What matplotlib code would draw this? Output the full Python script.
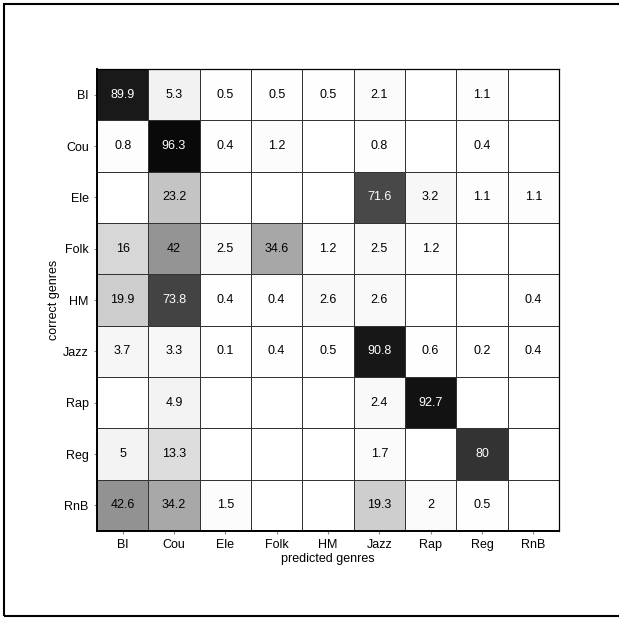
import numpy as np
import matplotlib
matplotlib.use("Agg")
import matplotlib.pyplot as plt
from matplotlib.patches import Rectangle

genres = ["Bl", "Cou", "Ele", "Folk", "HM", "Jazz", "Rap", "Reg", "RnB"]

row_Bl   = [89.9, 5.3, 0.5, 0.5, 0.5, 2.1, 0, 1.1, 0]
row_Cou  = [0.8, 96.3, 0.4, 1.2, 0, 0.8, 0, 0.4, 0]
row_Ele  = [0, 23.2, 0, 0, 0, 71.6, 3.2, 1.1, 1.1]
row_Folk = [16, 42, 2.5, 34.6, 1.2, 2.5, 1.2, 0, 0]
row_HM   = [19.9, 73.8, 0.4, 0.4, 2.6, 2.6, 0, 0, 0.4]
row_Jazz = [3.7, 3.3, 0.1, 0.4, 0.5, 90.8, 0.6, 0.2, 0.4]
row_Rap  = [0, 4.9, 0, 0, 0, 2.4, 92.7, 0, 0]
row_Reg  = [5, 13.3, 0, 0, 0, 1.7, 0, 80, 0]
row_RnB  = [42.6, 34.2, 1.5, 0, 0, 19.3, 2, 0.5, 0]

M = np.array([row_Bl, row_Cou, row_Ele, row_Folk, row_HM,
              row_Jazz, row_Rap, row_Reg, row_RnB])

plt.rcParams['font.family'] = ['Liberation Sans', 'DejaVu Sans']

fig = plt.figure(figsize=(6.19, 6.20), dpi=100)
ax = fig.add_axes([97/619, 1 - 531/620, (559 - 97)/619, (531 - 69)/620])

n = len(genres)
ax.pcolormesh(np.arange(n + 1) - 0.5, np.arange(n + 1) - 0.5, M,
              cmap='gray_r', vmin=0, vmax=100,
              edgecolor='#333333', linewidth=0.6)
ax.set_xlim(-0.5, n - 0.5)
ax.set_ylim(n - 0.5, -0.5)

for i in range(n):
    for j in range(n):
        v = M[i, j]
        if v > 0:
            ax.text(j, i, f"{v:g}", ha='center', va='center', fontsize=9,
                    color='white' if v > 50 else 'black')

ax.set_xticks(range(n))
ax.set_yticks(range(n))
ax.set_xticklabels(genres, fontsize=9)
ax.set_yticklabels(genres, fontsize=9)
ax.tick_params(direction='out', length=2, color='#888888', pad=4)
ax.set_xlabel("predicted genres", fontsize=9, labelpad=1)
ax.set_ylabel("correct genres", fontsize=9, labelpad=2)

for side in ['left', 'bottom']:
    ax.spines[side].set_linewidth(1.4)
for side in ['top', 'right']:
    ax.spines[side].set_linewidth(0.9)

fig.patches.append(Rectangle((4/619, 4/620), 1.0, 1 - 8/620,
                             transform=fig.transFigure, fill=False,
                             edgecolor='black', linewidth=1.5))

fig.savefig("out.png", dpi=100)
